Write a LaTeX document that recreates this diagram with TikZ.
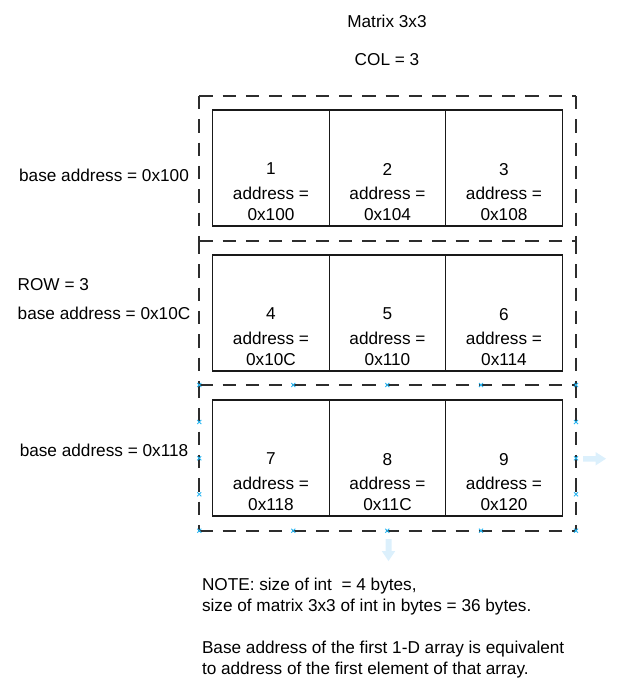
\documentclass[tikz,border=0pt]{standalone}
\usepackage{fontspec}
\setmainfont{Liberation Sans}
\definecolor{handleblue}{RGB}{41,182,242}
\definecolor{ghostblue}{RGB}{220,240,252}
\definecolor{dashgray}{RGB}{45,45,45}
\begin{document}
\begin{tikzpicture}[x=1pt,y=-1pt,
  txt/.style={font=\fontsize{17.2}{21}\selectfont, inner sep=0pt, outer sep=0pt, text=black},
  celltxt/.style={txt, align=center, anchor=north},
  cell/.style={draw=black!90, line width=1.3pt, minimum width=116.5pt, minimum height=116pt, inner sep=0pt},
  rowbox/.style={draw=none, minimum width=376.7pt, inner sep=0pt, outer sep=0pt},
  dashline/.style={draw=dashgray, line width=1.6pt, dash pattern=on 13.3pt off 10pt},
  handle/.style={draw=handleblue, line width=0.9pt},
  ghost/.style={fill=ghostblue, draw=none}]
\useasboundingbox (0,0) rectangle (623,691);

% title
\node[txt, anchor=base] (title) at (387,27.5) {Matrix 3x3};
\node[txt, anchor=base] (col) at (387,65.8) {COL = 3};

% row boxes (dashed)
\node[rowbox, minimum height=145pt] (r1) at (387.6,168.5) {};
\node[rowbox, minimum height=144pt] (r2) at (387.6,313) {};
\node[rowbox, minimum height=145.7pt] (r3) at (387.6,457.85) {};
\draw[dashline] (r1.north west) -- (r1.north east);
\draw[dashline] (r2.north west) -- (r2.north east);
\draw[dashline] (r3.north west) -- (r3.north east);
\draw[dashline] (r3.south west) -- (r3.south east);
\foreach \b in {r1,r2,r3}{
  \draw[dashline] (\b.north west) -- (\b.south west);
  \draw[dashline] (\b.north east) -- (\b.south east);
}

% cells
\foreach \r/\yc in {0/168,1/313,2/458}{
  \foreach \c/\xc in {1/271,2/387.5,3/504}{
    \pgfmathtruncatemacro{\n}{3*\r+\c}
    \node[cell] (c\n) at (\xc,\yc) {};
  }
}

% cell texts
\node[celltxt] (t1) at ([yshift=5pt]c1.center) {1\\[3.3pt]address =\\0x100};
\node[celltxt] (t2) at ([yshift=5pt]c2.center) {2\\[3.3pt]address =\\0x104};
\node[celltxt] (t3) at ([yshift=5pt]c3.center) {3\\[3.3pt]address =\\0x108};
\node[celltxt] (t4) at ([yshift=5pt]c4.center) {4\\[3.3pt]address =\\0x10C};
\node[celltxt] (t5) at ([yshift=5pt]c5.center) {5\\[3.3pt]address =\\0x110};
\node[celltxt] (t6) at ([yshift=5pt]c6.center) {6\\[3.3pt]address =\\0x114};
\node[celltxt] (t7) at ([yshift=5pt]c7.center) {7\\[3.3pt]address =\\0x118};
\node[celltxt] (t8) at ([yshift=5pt]c8.center) {8\\[3.3pt]address =\\0x11C};
\node[celltxt] (t9) at ([yshift=5pt]c9.center) {9\\[3.3pt]address =\\0x120};

% left labels
\node[txt, anchor=base] (b1) at (104,181.6) {base address = 0x100};
\node[txt, anchor=base west] (row) at (17.7,290.8) {ROW = 3};
\node[txt, anchor=base] (b2) at (104,319.2) {base address = 0x10C};
\node[txt, anchor=base] (b3) at (104,456.6) {base address = 0x118};

% note
\node[txt, align=left, anchor=north west] (note) at (202,578)
  {NOTE: size of int\ \ = 4 bytes,\\size of matrix 3x3 of int in bytes = 36 bytes.\\[21pt]Base address of the first 1-D array is equivalent\\to address of the first element of that array.};

% selection handles
\foreach \x/\y in {199.3/385,293.3/385,387.3/385,481/385,576/385,
                   199.3/530.7,293.3/530.7,387.3/530.7,481/530.7,576/530.7,
                   199.3/422,199.3/458.3,199.3/494.3,576/422,576/458.3,576/494.3}{
  \draw[handle] (\x-2,\y-2) -- (\x+2,\y+2) (\x-2,\y+2) -- (\x+2,\y-2);
}

% hover arrows
\fill[ghost] (583,456) -- (595.5,456) -- (595.5,452) -- (606,458.7) -- (595.5,465.5) -- (595.5,461.5) -- (583,461.5) -- cycle;
\fill[ghost] (385.5,539) -- (391.5,539) -- (391.5,551) -- (395.3,551) -- (388.5,561) -- (381.7,551) -- (385.5,551) -- cycle;
\end{tikzpicture}
\end{document}
